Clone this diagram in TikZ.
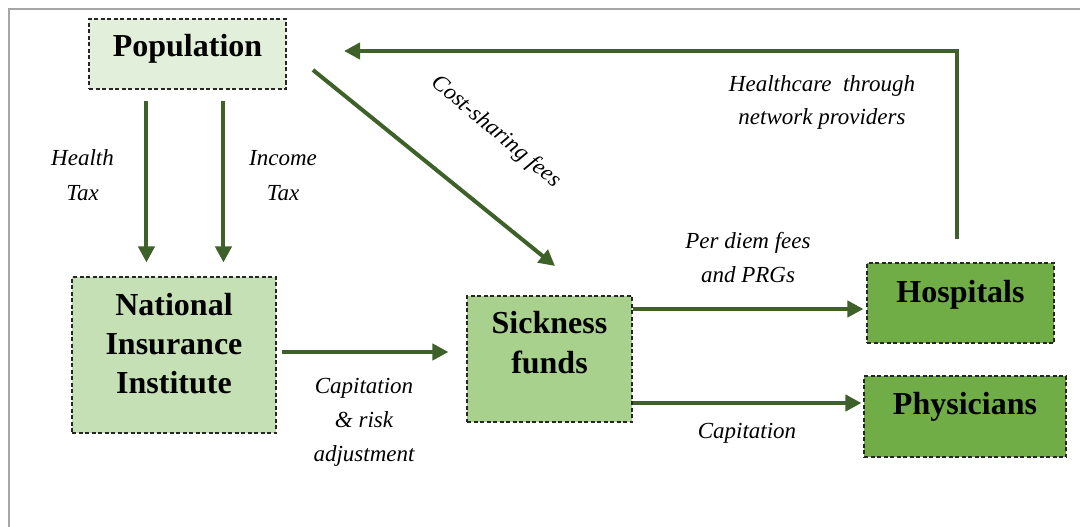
\documentclass[tikz,border=0pt]{standalone}
\usepackage{fontspec}
\setmainfont{Liberation Serif}
\usetikzlibrary{arrows.meta}
\definecolor{arrowgreen}{HTML}{3D6128}
\definecolor{popfill}{HTML}{E2EFDA}
\definecolor{niifill}{HTML}{C5E0B4}
\definecolor{sickfill}{HTML}{A9D18E}
\definecolor{provfill}{HTML}{70AD47}
\definecolor{framegray}{HTML}{A6A6A6}
\newcommand\boxtxt[2]{\raisebox{#1}[0pt][0pt]{\begin{tabular}[t]{@{}c@{}}#2\end{tabular}}}
\newcommand\lbltxt[1]{\begin{tabular}[t]{@{}c@{}}#1\end{tabular}}
\tikzset{
  box/.style={draw=black!85, line width=1.1pt, dash pattern=on 4pt off 2.5pt, inner sep=0pt,
    font=\fontsize{32}{39}\selectfont\bfseries},
  lbl/.style={font=\fontsize{23}{34}\selectfont\itshape, inner sep=0pt, anchor=base},
  arr/.style={draw=arrowgreen, line width=4pt, -{Triangle[length=16pt,width=16pt]}},
}
\begin{document}
\begin{tikzpicture}[x=1pt,y=-1pt]
\useasboundingbox (0,0) rectangle (1080,527);
% frame
\draw[framegray, line width=2pt] (9,527) -- (9,9) -- (1080,9);
% boxes
\node[box, fill=popfill, minimum width=197pt, minimum height=70pt] (pop) at (187.5,54)
  {\boxtxt{-3pt}{Population}};
\node[box, fill=niifill, minimum width=204pt, minimum height=156pt] (nii) at (174,355)
  {\boxtxt{40pt}{National\\Insurance\\Institute}};
\node[box, fill=sickfill, minimum width=165pt, minimum height=126pt,
  font=\fontsize{32}{40}\selectfont\bfseries] (sick) at (549.5,359)
  {\boxtxt{26pt}{Sickness\\funds}};
\node[box, fill=provfill, minimum width=187pt, minimum height=80pt] (hosp) at (960.5,303)
  {\boxtxt{1pt}{Hospitals}};
\node[box, fill=provfill, minimum width=202pt, minimum height=81pt] (phys) at (965,416.5)
  {\boxtxt{2.5pt}{Physicians}};
% connectors
\draw[arr, shorten <=11pt, shorten >=14pt] ([xshift=58pt]pop.south west) -- ([xshift=75pt]nii.north west);
\draw[arr, shorten <=11pt, shorten >=14pt] ([xshift=135pt]pop.south west) -- ([xshift=152pt]nii.north west);
\coordinate (csA) at (313,70);
\coordinate (csB) at (555,266);
\draw[arr] (csA) -- (csB);
\coordinate (retEnd) at (344,51);
\draw[arr, shorten <=23pt] ([xshift=91pt]hosp.north west) |- (retEnd);
\coordinate (n1) at ([yshift=3pt]nii.east);
\draw[arr, shorten <=5pt, shorten >=18pt] (n1) -- (n1 -| sick.west);
\coordinate (s1) at ([yshift=50pt]sick.east);
\draw[arr, shorten >=3pt] (s1) -- (s1 -| hosp.west);
\coordinate (s2) at ([yshift=-44pt]sick.east);
\draw[arr, shorten >=2pt] (s2) -- (s2 -| phys.west);
% labels
\node[lbl, font=\fontsize{23}{35}\selectfont\itshape] (lhealth) at (82.5,165) {\lbltxt{Health\\Tax}};
\node[lbl, font=\fontsize{23}{35}\selectfont\itshape] (lincome) at (283,165) {\lbltxt{Income\\Tax}};
\node[lbl, anchor=center, rotate=-40] (lcost) at (496,132) {Cost-sharing fees};
\node[lbl, font=\fontsize{23}{33}\selectfont\itshape] (lcare) at (822,92) {\lbltxt{Healthcare\enspace through\\network providers}};
\node[lbl] (ldiem) at (748,248) {\lbltxt{Per diem fees\\and PRGs}};
\node[lbl] (lcaprisk) at (364,393) {\lbltxt{Capitation\\\& risk\\adjustment}};
\node[lbl] (lcap) at (747,438) {Capitation};
\end{tikzpicture}
\end{document}
